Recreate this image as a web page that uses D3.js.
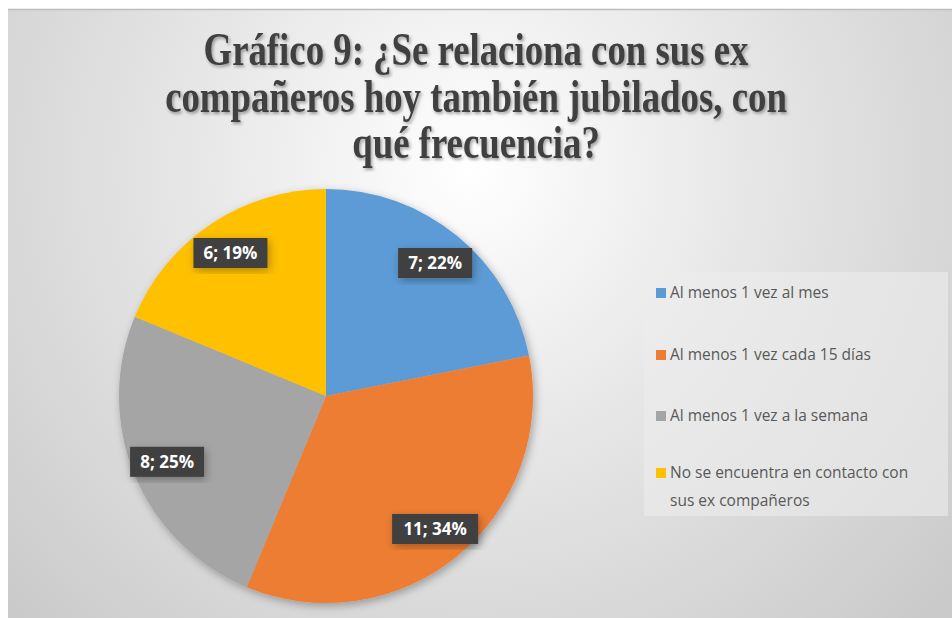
<!DOCTYPE html>
<html>
<head>
<meta charset="utf-8">
<script src="https://cdn.jsdelivr.net/npm/d3@7"></script>
<style>
  html, body { margin: 0; padding: 0; background: #fff; }
</style>
</head>
<body>
<div id="chart"></div>
<script>
// ── datos del grafico ──
const categories = [
  "Al menos 1 vez al mes",
  "Al menos 1 vez cada 15 días",
  "Al menos 1 vez a la semana",
  "No se encuentra en contacto con sus ex compañeros"
];
const values = [7, 11, 8, 6];
const percents = ["22%", "34%", "25%", "19%"];
const colors = ["#5b9bd5", "#ed7d31", "#a5a5a5", "#ffc000"];
const titleLines = [
  "Gráfico 9: ¿Se relaciona con sus ex",
  "compañeros hoy también jubilados, con",
  "qué frecuencia?"
];
const legendLines = [
  ["Al menos 1 vez al mes"],
  ["Al menos 1 vez cada 15 días"],
  ["Al menos 1 vez a la semana"],
  ["No se encuentra en contacto con", "sus ex compañeros"]
];

const width = 952, height = 618;
const svg = d3.select("#chart").append("svg")
  .attr("width", width).attr("height", height)
  .attr("viewBox", [0, 0, width, height]);

const defs = svg.append("defs");
const bg = defs.append("radialGradient").attr("id", "bg")
  .attr("gradientUnits", "userSpaceOnUse")
  .attr("cx", 470).attr("cy", 170).attr("r", 640);
bg.append("stop").attr("offset", "0%").attr("stop-color", "#ffffff");
bg.append("stop").attr("offset", "45%").attr("stop-color", "#e6e6e6");
bg.append("stop").attr("offset", "100%").attr("stop-color", "#cacaca");

const sh = defs.append("filter").attr("id", "shadow")
  .attr("x", "-20%").attr("y", "-20%").attr("width", "140%").attr("height", "140%");
sh.append("feDropShadow").attr("dx", 2).attr("dy", 3).attr("stdDeviation", 4)
  .attr("flood-color", "#000").attr("flood-opacity", 0.3);

const tsh = defs.append("filter").attr("id", "tshadow")
  .attr("x", "-10%").attr("y", "-30%").attr("width", "120%").attr("height", "160%");
tsh.append("feDropShadow").attr("dx", 1.5).attr("dy", 2).attr("stdDeviation", 1.5)
  .attr("flood-color", "#000").attr("flood-opacity", 0.35);

// fondo del area del grafico
svg.append("rect")
  .attr("x", 8).attr("y", 9).attr("width", width - 8).attr("height", height - 9)
  .attr("fill", "url(#bg)");
svg.append("line")
  .attr("x1", 8).attr("x2", width).attr("y1", 9.5).attr("y2", 9.5)
  .attr("stroke", "#bdbdbd").attr("stroke-width", 1.5);

// titulo (letra condensada: escala horizontal)
const titleBase = [65, 112, 158];
svg.append("g")
  .attr("filter", "url(#tshadow)")
  .selectAll("text").data(titleLines).join("text")
  .attr("transform", (d, i) => `translate(476,${titleBase[i]}) scale(0.8,1)`)
  .attr("text-anchor", "middle")
  .attr("font-family", "'Liberation Serif', 'Times New Roman', serif")
  .attr("font-weight", "bold")
  .attr("font-size", "46px")
  .attr("fill", "#404040")
  .text(d => d);

// torta
const cx = 326, cy = 396, r = 207;
const pie = d3.pie().sort(null).value(d => d);
const arcs = pie(values);
const arc = d3.arc().innerRadius(0).outerRadius(r);
const labelArc = d3.arc().innerRadius(172).outerRadius(172);

const gPie = svg.append("g").attr("transform", `translate(${cx},${cy})`);
gPie.append("g").attr("filter", "url(#shadow)")
  .selectAll("path").data(arcs).join("path")
  .attr("d", arc)
  .attr("fill", (d, i) => colors[i]);

// etiquetas de datos
const lab = gPie.append("g").selectAll("g").data(arcs).join("g")
  .attr("transform", d => `translate(${labelArc.centroid(d)})`);
lab.append("rect")
  .attr("x", (d, i) => -(values[i] >= 10 ? 43 : 37))
  .attr("y", -15)
  .attr("width", (d, i) => values[i] >= 10 ? 86 : 74)
  .attr("height", 30)
  .attr("fill", "#404040")
  .attr("filter", "url(#shadow)");
lab.append("text")
  .attr("text-anchor", "middle")
  .attr("dy", "0.36em")
  .attr("font-family", "'Open Sans', 'Liberation Sans', sans-serif")
  .attr("font-weight", "bold")
  .attr("font-size", "17px")
  .attr("fill", "#ffffff")
  .text((d, i) => `${values[i]}; ${percents[i]}`);

// leyenda
svg.append("rect")
  .attr("x", 644).attr("y", 272).attr("width", 304).attr("height", 244)
  .attr("fill", "#ececec").attr("opacity", 0.6);

const legendY = [293, 355, 416, 473];
const leg = svg.append("g").selectAll("g").data(categories).join("g")
  .attr("transform", (d, i) => `translate(656,${legendY[i]})`);
leg.append("rect")
  .attr("x", 0).attr("y", -5).attr("width", 10).attr("height", 10)
  .attr("fill", (d, i) => colors[i]);
leg.append("text")
  .attr("font-family", "'Open Sans', 'Liberation Sans', sans-serif")
  .attr("font-size", "15.5px")
  .attr("fill", "#595959")
  .selectAll("tspan").data((d, i) => legendLines[i]).join("tspan")
  .attr("x", 14)
  .attr("y", (d, j) => j * 28)
  .attr("dy", "0.35em")
  .text(d => d);
</script>
</body>
</html>
